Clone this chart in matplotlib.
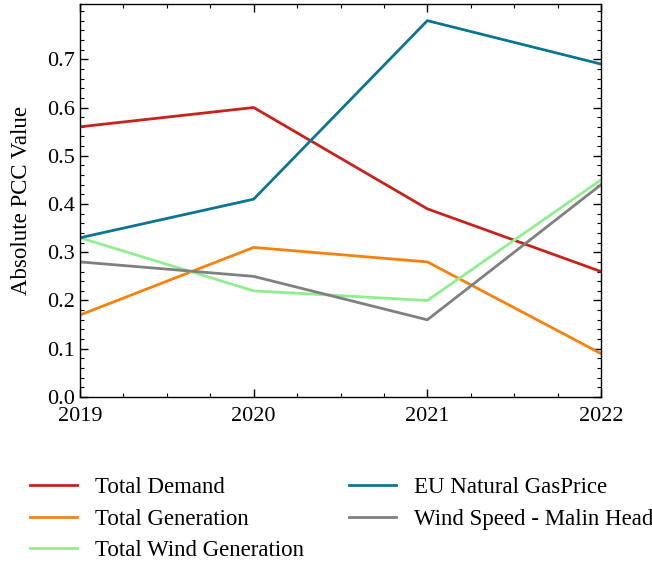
import matplotlib
matplotlib.use("Agg")
import matplotlib.pyplot as plt
from matplotlib.ticker import AutoMinorLocator

years = [2019, 2020, 2021, 2022]
total_demand = [0.56, 0.60, 0.39, 0.26]
total_generation = [0.17, 0.31, 0.28, 0.09]
total_wind_gen = [0.33, 0.22, 0.20, 0.45]
gas_price = [0.33, 0.41, 0.78, 0.69]
wind_speed = [0.28, 0.25, 0.16, 0.44]

plt.rcParams["font.family"] = ["Liberation Serif", "DejaVu Serif"]
plt.rcParams["mathtext.fontset"] = "stix"

fig = plt.figure(figsize=(6.52, 5.64), dpi=100)
ax = fig.add_axes([0.1227, 0.2961, 0.7991, 0.6968])

ax.plot(years, total_demand, color="#c8231b", lw=2, label="Total Demand")
ax.plot(years, total_generation, color="#f5820d", lw=2, label="Total Generation")
ax.plot(years, total_wind_gen, color="#90ee90", lw=2, label="Total Wind Generation")
ax.plot(years, gas_price, color="#0c7592", lw=2, label="EU Natural GasPrice")
ax.plot(years, wind_speed, color="#808080", lw=2, label="Wind Speed - Malin Head")

ax.set_xlim(2019, 2022)
ax.set_ylim(bottom=0)
ax.set_xticks(years)
ax.set_yticks([0.0, 0.1, 0.2, 0.3, 0.4, 0.5, 0.6, 0.7])
ax.xaxis.set_minor_locator(AutoMinorLocator(4))
ax.yaxis.set_minor_locator(AutoMinorLocator(5))
ax.tick_params(which="both", direction="in", top=True, right=True, labelsize=16)
ax.tick_params(which="major", length=6, width=1)
ax.tick_params(which="minor", length=3, width=0.8)
ax.tick_params(axis="x", which="major", pad=7)
for s in ax.spines.values():
    s.set_linewidth(1)
ax.set_ylabel("Absolute PCC Value", fontsize=16.5, labelpad=11)

fig.legend(loc="upper left", bbox_to_anchor=(0.032, 0.170), ncol=2, frameon=False,
           fontsize=16.5, handlelength=2.05, handletextpad=0.78, columnspacing=1.96,
           labelspacing=0.45, borderaxespad=0)

fig.savefig("out.png", dpi=100)
